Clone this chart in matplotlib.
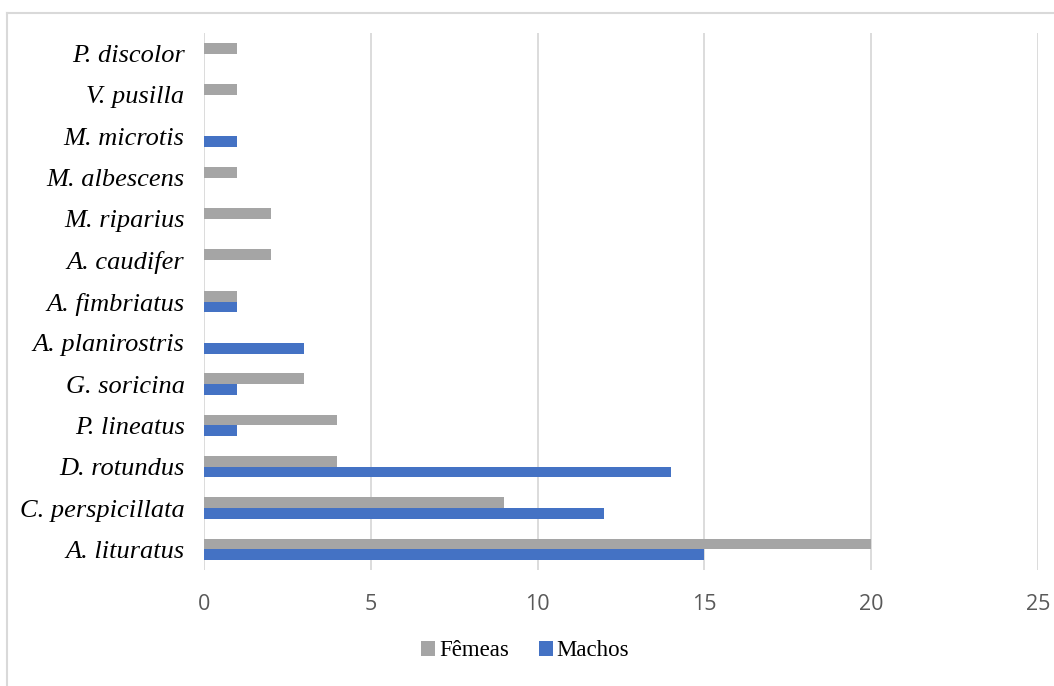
import matplotlib
matplotlib.use("Agg")
import matplotlib.pyplot as plt
from matplotlib.lines import Line2D
import numpy as np

categories = ["A. lituratus", "C. perspicillata", "D. rotundus", "P. lineatus",
              "G. soricina", "A. planirostris", "A. fimbriatus", "A. caudifer",
              "M. riparius", "M. albescens", "M. microtis", "V. pusilla", "P. discolor"]
femeas = [20, 9, 4, 4, 3, 0, 1, 2, 2, 1, 0, 1, 1]
machos = [15, 12, 14, 1, 1, 3, 1, 0, 0, 0, 1, 0, 0]
xticks = [0, 5, 10, 15, 20, 25]

fig = plt.figure(figsize=(10.54, 6.86), dpi=100)
ax = fig.add_axes([204/1054, 1-570/686, (1038-204)/1054, (570-33)/686])

y = np.arange(len(categories))
h = 0.26
ax.barh(y - h/2, machos, height=h, color="#4472c4", label="Machos", zorder=3)
ax.barh(y + h/2, femeas, height=h, color="#a5a5a5", label="Fêmeas", zorder=3)

ax.set_xlim(0, 25)
ax.set_ylim(-0.5, len(categories) - 0.5)
ax.set_xticks(xticks)
ax.set_xticklabels([str(t) for t in xticks], fontfamily="Open Sans", fontsize=15.5, color="#595959")
ax.set_yticks(y)
ax.set_yticklabels(categories, fontfamily="Liberation Serif", fontstyle="italic", fontsize=19, color="black")
ax.tick_params(axis="both", length=0)
ax.tick_params(axis="x", pad=17)
ax.tick_params(axis="y", pad=14)
for s in ax.spines.values():
    s.set_visible(False)
ax.grid(axis="x", color="#d9d9d9", linewidth=1.3, zorder=0)

handles, labels = ax.get_legend_handles_labels()
leg = fig.legend(handles[::-1], labels[::-1], loc="center", bbox_to_anchor=(525/1054, 1-651/686),
                 ncol=2, frameon=False, prop={"family": "Liberation Serif", "size": 16.5},
                 handlelength=0.62, handleheight=0.62, handletextpad=0.15, columnspacing=1.3)

# chart border (top and left)
fig.add_artist(Line2D([7/1054, 7/1054], [0, 1-13/686], color="#d9d9d9", linewidth=1.5, transform=fig.transFigure))
fig.add_artist(Line2D([7/1054, 1], [1-13/686, 1-13/686], color="#d9d9d9", linewidth=1.5, transform=fig.transFigure))

fig.savefig("out.png", dpi=100)
